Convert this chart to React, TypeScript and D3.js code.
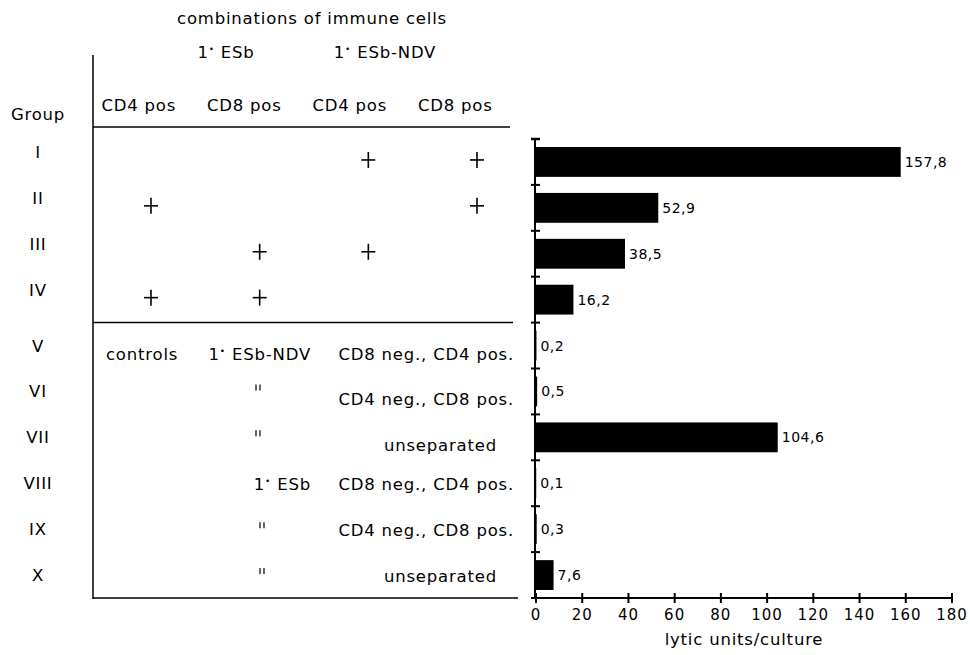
import React from "react";
import * as d3 from "d3";

const groups = ["I", "II", "III", "IV", "V", "VI", "VII", "VIII", "IX", "X"];
const values = [157.8, 52.9, 38.5, 16.2, 0.2, 0.5, 104.6, 0.1, 0.3, 7.6];
const xTicks = [0, 20, 40, 60, 80, 100, 120, 140, 160, 180];
const colHeaders = ["CD4 pos", "CD8 pos", "CD4 pos", "CD8 pos"];
const colGroups = ["ESb", "ESb-NDV"];
// plus matrix for groups I-IV
const combos = [
  [0, 0, 1, 1],
  [1, 0, 0, 1],
  [0, 1, 1, 0],
  [1, 1, 0, 0],
];
const controlSource = ["ESb-NDV", '"', '"', "ESb", '"', '"'];
const controlFraction = [
  "CD8 neg., CD4 pos.",
  "CD4 neg., CD8 pos.",
  "unseparated",
  "CD8 neg., CD4 pos.",
  "CD4 neg., CD8 pos.",
  "unseparated",
];

const W = 970;
const H = 655;
const FONT = "'DejaVu Sans', sans-serif";
const FS = 16.5;
const LS = 0.8;

function Primed({ x, y, label, anchor }: { x: number; y: number; label: string; anchor: string }) {
  return (
    <text x={x} y={y} textAnchor={anchor} fontSize={FS} letterSpacing={LS}>
      1<tspan fontSize={9} dy={-6}>•</tspan>
      <tspan dy={6}> {label}</tspan>
    </text>
  );
}

export default function App() {
  const x = d3.scaleLinear().domain([0, 180]).range([536, 952]);
  const y = d3
    .scaleBand<string>()
    .domain(groups)
    .range([139, 598])
    .paddingInner(0.35)
    .paddingOuter(0.175);
  const step = y.step();
  const boundary = (i: number) => 139 + i * step;
  const center = (g: string) => (y(g) as number) + y.bandwidth() / 2;

  const colX = d3.scaleBand<number>().domain([0, 1, 2, 3]).range([86, 508]);
  const plusX = d3.scalePoint<number>().domain([0, 1, 2, 3]).range([151, 477]);

  const axisY = 598;
  const fmt = (v: number) => String(v).replace(".", ",");

  return (
    <svg width={W} height={H} style={{ position: "absolute", left: 0, top: 0, background: "#fff" }} fontFamily={FONT}>
      <rect x={0} y={0} width={W} height={H} fill="#fff" />
      {/* header */}
      <text x={312} y={24} textAnchor="middle" fontSize={FS} letterSpacing={LS}>
        combinations of immune cells
      </text>
      <Primed x={226} y={58} label={colGroups[0]} anchor="middle" />
      <Primed x={385} y={58} label={colGroups[1]} anchor="middle" />
      {colHeaders.map((h, i) => (
        <text key={i} x={(colX(i) as number) + colX.bandwidth() / 2} y={111} textAnchor="middle" fontSize={FS} letterSpacing={LS}>
          {h}
        </text>
      ))}
      <text x={38} y={120} textAnchor="middle" fontSize={FS} letterSpacing={LS}>
        Group
      </text>

      {/* table lines */}
      <g stroke="#000" strokeWidth={1.5} fill="none">
        <line x1={93} y1={55} x2={93} y2={599} />
        <line x1={93} y1={127} x2={510} y2={127} />
        <line x1={93} y1={boundary(4)} x2={513} y2={boundary(4)} />
        <line x1={93} y1={axisY} x2={518} y2={axisY} />
      </g>

      {/* group labels */}
      {groups.map((g, i) => (
        <text key={g} x={38} y={center(g) + (i < 4 ? -10 : 0) + 6} textAnchor="middle" fontSize={FS} letterSpacing={LS}>
          {g}
        </text>
      ))}

      {/* plus marks */}
      <g stroke="#000" strokeWidth={1.6}>
        {combos.map((row, r) =>
          row.map((c, k) => {
            if (!c) return null;
            const cx = plusX(k) as number;
            const cy = center(groups[r]) - 2;
            return (
              <g key={`${r}-${k}`}>
                <line x1={cx - 7} y1={cy} x2={cx + 7} y2={cy} />
                <line x1={cx} y1={cy - 8} x2={cx} y2={cy + 8} />
              </g>
            );
          })
        )}
      </g>

      {/* control rows */}
      <text x={106} y={center("V") + 8 + 6} fontSize={FS} letterSpacing={LS}>
        controls
      </text>
      {controlSource.map((s, i) => {
        const g = groups[i + 4];
        const cy = center(g) + (i < 3 ? 8 : 1);
        if (s === '"') {
          const dx = i < 3 ? 258 : 262;
          const ty = center(g) - 4;
          return (
            <g key={i} stroke="#000" strokeWidth={1.2}>
              <line x1={dx - 2} y1={ty - 3} x2={dx - 2} y2={ty + 3} />
              <line x1={dx + 2} y1={ty - 3} x2={dx + 2} y2={ty + 3} />
            </g>
          );
        }
        return <Primed key={i} x={311} y={cy + 6} label={s} anchor="end" />;
      })}
      {controlFraction.map((f, i) => {
        const g = groups[i + 4];
        const cy = center(g) + (i < 3 ? 8 : 1) + 6;
        const unsep = f === "unseparated";
        return (
          <text key={i} x={unsep ? 497 : 514} y={cy} textAnchor="end" fontSize={FS} letterSpacing={LS}>
            {f}
          </text>
        );
      })}

      {/* bars */}
      {groups.map((g, i) => (
        <g key={g}>
          <rect x={x(0)} y={y(g)} width={x(values[i]) - x(0)} height={y.bandwidth()} fill="#000" />
          <text x={x(values[i]) + 4} y={center(g) + 5} fontSize={14} letterSpacing={0.5}>
            {fmt(values[i])}
          </text>
        </g>
      ))}

      {/* y axis */}
      <g stroke="#000" strokeWidth={2}>
        <line x1={535} y1={boundary(0)} x2={535} y2={axisY} />
        {d3.range(0, 11).map((i) => (
          <line key={i} x1={531} y1={boundary(i)} x2={540} y2={boundary(i)} strokeWidth={i === 0 ? 2.5 : 2} />
        ))}
      </g>

      {/* x axis */}
      <g stroke="#000" strokeWidth={2}>
        <line x1={x(0)} y1={axisY} x2={x(180)} y2={axisY} />
        {xTicks.map((t) => (
          <line key={t} x1={x(t)} y1={axisY - 5} x2={x(t)} y2={axisY + 5} />
        ))}
      </g>
      {xTicks.map((t) => (
        <text key={t} x={x(t)} y={axisY + 22} textAnchor="middle" fontSize={15} letterSpacing={1}>
          {t}
        </text>
      ))}
      <text x={744} y={645} textAnchor="middle" fontSize={FS} letterSpacing={LS}>
        lytic units/culture
      </text>
    </svg>
  );
}
